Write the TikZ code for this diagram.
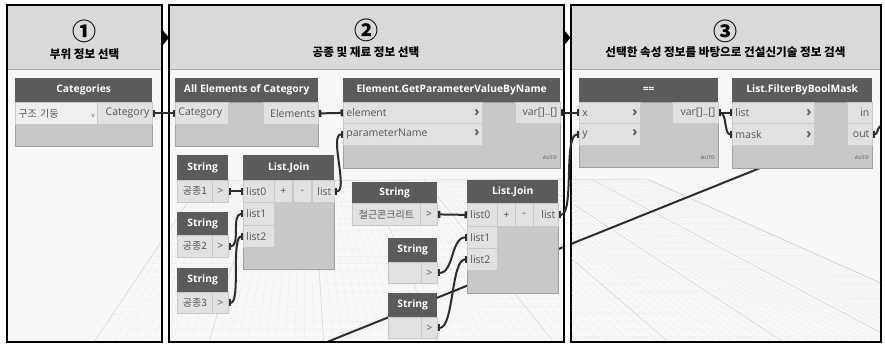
\documentclass[tikz,border=0pt]{standalone}
\usepackage{fontspec}
\setmainfont{Open Sans}
\newfontfamily\kr{Noto Sans CJK KR}
\usetikzlibrary{arrows.meta,calc}

\definecolor{panelbg}{HTML}{F7F7F7}
\definecolor{panelhd}{HTML}{D9D9D9}
\definecolor{sepline}{HTML}{A8A8A8}
\definecolor{nodehd}{HTML}{5B5B5B}
\definecolor{nodebd}{HTML}{C8C8C8}
\definecolor{nodeedge}{HTML}{A0A0A0}
\definecolor{cellbg}{HTML}{E1E1E1}
\definecolor{ddbg}{HTML}{EFEFEF}
\definecolor{porttx}{HTML}{555555}
\definecolor{autotx}{HTML}{7A7A7A}
\definecolor{wirec}{HTML}{2D2D2D}

\newcommand\chv{{\bfseries\fontsize{14}{9}\selectfont ›}}

\begin{document}
\begin{tikzpicture}[x=1pt, y=-1pt,
    every node/.style={inner sep=0pt},
    panel/.style={draw, line width=2pt, fill=panelbg, anchor=north west, outer sep=0pt},
    phead/.style={fill=panelhd, anchor=north west, minimum height=63},
    pnum/.style={font=\kr\bfseries\fontsize{24}{24}\selectfont},
    ptitle/.style={font=\kr\bfseries\fontsize{11.6}{12}\selectfont},
    dhead/.style={fill=nodehd, text=white, anchor=north west, font=\bfseries\fontsize{10.3}{10}\selectfont},
    dbody/.style={fill=nodebd, draw=nodeedge, line width=.6pt, anchor=north west},
    cell/.style={fill=cellbg, draw=nodebd, line width=.8pt, anchor=north west, inner xsep=3pt,
      minimum height=21, text=porttx, font=\fontsize{10.5}{10}\selectfont},
    krcell/.style={cell, font=\kr\fontsize{10}{10}\selectfont},
    lcell/.style={cell, align=left, text width=#1},
    rcell/.style={cell, align=right, text width=#1},
    autotag/.style={anchor=east, text=autotx, font=\bfseries\fontsize{5}{5}\selectfont},
    bare/.style={draw=wirec, line width=2pt},
    wire/.style={bare, {Rectangle[length=2.5pt,width=7pt]}-{Rectangle[length=2.5pt,width=7pt]}},
    flow/.style={-{Triangle[length=6pt,width=14pt]}, line width=2pt},
    gridln/.style={draw=black!8, line width=.3pt},
    gridmaj/.style={draw=black!18, line width=.4pt}
  ]
  \useasboundingbox (0,0) rectangle (885,348);

  % three panels
  \node[panel, minimum width=155, minimum height=337] (pnl1) at (7,5) {};
  \node[panel, minimum width=394.5, minimum height=337] (pnl2) at (169,5) {};
  \node[panel, minimum width=310.5, minimum height=337] (pnl3) at (570.5,5) {};

  \node[phead, minimum width=153] (hd1) at (8,6) {};
  \node[phead, minimum width=392.5] (hd2) at (170,6) {};
  \node[phead, minimum width=308.5] (hd3) at (571.5,6) {};
  \draw[sepline, line width=.8pt] (hd1.south west) -- (hd1.south east);
  \draw[sepline, line width=.8pt] (hd2.south west) -- (hd2.south east);
  \draw[sepline, line width=.8pt] (hd3.south west) -- (hd3.south east);

  \node[pnum] (n1) at (84.5,31) {①};
  \node[ptitle] (t1) at (84.5,54) {부위 정보 선택};
  \node[pnum] (n2) at (366,30) {②};
  \node[ptitle] (t2) at (366,52) {공종 및 재료 정보 선택};
  \node[pnum] (n3) at (725.5,31) {③};
  \node[ptitle] (t3) at (725.5,52) {선택한 속성 정보를 바탕으로 건설신기술 정보 검색};

  \draw[flow] (pnl1.east |- hd1.center) -- (pnl2.west |- hd1.center);
  \draw[flow] (pnl2.east |- hd2.center) -- (pnl3.west |- hd2.center);

  % floor grid
  \begin{scope}
    \clip (8,70) rectangle (161,341) (170,70) rectangle (562.5,341) (571.5,70) rectangle (880,341);
    \coordinate (fl) at (202,181);
    \coordinate (fr) at (647,179);
    \coordinate (nl) at (92,345);
    \coordinate (nr) at (1020,345);
    \foreach \i in {0,...,96}
      \draw[gridln] ($(fl)!\i/96!(fr)$) -- ($(nl)!\i/96!(nr)$);
    \foreach \j in {0,...,26}{
      \pgfmathsetmacro\tj{(\j/26)^1.25}
      \draw[gridln] ($(fl)!\tj!(nl)$) -- ($(fr)!\tj!(nr)$);
    }
    \foreach \i in {0,12,...,96}
      \draw[gridmaj] ($(fl)!\i/96!(fr)$) -- ($(nl)!\i/96!(nr)$);
    \draw[gridmaj] (fl) -- (fr) -- (nr);
    \coordinate (lnA) at (322,344);
    \coordinate (lnB) at (790,156);
    \draw[bare] (lnA) -- (lnB);
  \end{scope}

  % panel 1
  \node[dhead, minimum width=137, minimum height=24] (cat) at (15,78) {Categories};
  \node[dbody, minimum width=137, minimum height=44] (cat-bd) at (15,102) {};
  \node[krcell, fill=ddbg, align=left, text width=76pt, minimum height=22] (cat-dd) at (15,102) {구조 기둥\hfill{\fontsize{6}{6}\selectfont v}\hspace{4pt}};
  \node[rcell=49pt, minimum height=22] (cat-out) at (97,102) {Category};

  % panel 2
  \node[dhead, minimum width=143, minimum height=24] (aec) at (175,78) {All Elements of Category};
  \node[dbody, minimum width=143, minimum height=44] (aec-bd) at (175,102) {};
  \node[lcell=47pt, minimum height=22] (aec-in) at (175,102) {Category};
  \node[rcell=49pt, minimum height=22] (aec-out) at (263,102) {Elements};

  \node[dhead, minimum width=217, minimum height=24] (gpv) at (343,78) {Element.GetParameterValueByName};
  \node[dbody, minimum width=217, minimum height=66] (gpv-bd) at (343,102) {};
  \node[lcell=133pt] (gpv-el) at (343,102) {element\hfill\chv};
  \node[lcell=133pt, minimum height=22] (gpv-pn) at (343,123) {parameterName\hfill\chv};
  \node[rcell=39pt] (gpv-out) at (515,102) {var[]..[]};
  \node[autotag] (gpv-auto) at (557,158) {AUTO};

  \node[dhead, minimum width=51, minimum height=25] (str1) at (177,155) {String};
  \node[krcell, minimum width=35, minimum height=22] (str1-v) at (177,180) {공종1};
  \node[cell, minimum width=16, minimum height=22] (str1-o) at (212,180) {>};
  \node[dhead, minimum width=51, minimum height=23] (str2) at (177,212) {String};
  \node[krcell, minimum width=35, minimum height=22] (str2-v) at (177,235) {공종2};
  \node[cell, minimum width=16, minimum height=22] (str2-o) at (212,235) {>};
  \node[dhead, minimum width=51, minimum height=24] (str3) at (177,268) {String};
  \node[krcell, minimum width=35, minimum height=21] (str3-v) at (177,292) {공종3};
  \node[cell, minimum width=16, minimum height=21] (str3-o) at (212,292) {>};

  \node[dhead, minimum width=91, minimum height=25] (lj1) at (243,155) {List.Join};
  \node[dbody, minimum width=91, minimum height=89] (lj1-bd) at (243,180) {};
  \node[lcell=25pt, minimum height=22] (lj1-l0) at (243,180) {list0};
  \node[cell, minimum width=18, minimum height=22] (lj1-add) at (274,180) {+};
  \node[cell, minimum width=18, minimum height=22] (lj1-rem) at (293,180) {-};
  \node[rcell=16pt, minimum height=22] (lj1-out) at (312,180) {list};
  \node[lcell=25pt, minimum height=23] (lj1-l1) at (243,202) {list1};
  \node[lcell=25pt, minimum height=22] (lj1-l2) at (243,225) {list2};

  \node[dhead, minimum width=85, minimum height=21] (str4) at (352,182) {String};
  \node[krcell, minimum width=68, minimum height=22] (str4-v) at (352,203) {철근콘크리트};
  \node[cell, minimum width=17, minimum height=22] (str4-o) at (420,203) {>};
  \node[dhead, minimum width=49, minimum height=24] (str5) at (388,238) {String};
  \node[cell, minimum width=33, minimum height=21] (str5-v) at (388,262) {};
  \node[cell, minimum width=16, minimum height=21] (str5-o) at (421,262) {>};
  \node[dhead, minimum width=49, minimum height=24] (str6) at (388,293) {String};
  \node[cell, minimum width=33, minimum height=21] (str6-v) at (388,317) {};
  \node[cell, minimum width=16, minimum height=21] (str6-o) at (421,317) {>};

  \node[dhead, minimum width=91, minimum height=23] (lj2) at (467,180) {List.Join};
  \node[dbody, minimum width=91, minimum height=90] (lj2-bd) at (467,203) {};
  \node[lcell=24pt, minimum height=23] (lj2-l0) at (467,203) {list0};
  \node[cell, minimum width=18, minimum height=23] (lj2-add) at (497,203) {+};
  \node[cell, minimum width=18, minimum height=23] (lj2-rem) at (515,203) {-};
  \node[rcell=19pt, minimum height=23] (lj2-out) at (533,203) {list};
  \node[lcell=24pt, minimum height=22] (lj2-l1) at (467,226) {list1};
  \node[lcell=24pt, minimum height=22] (lj2-l2) at (467,248) {list2};

  % panel 3
  \node[dhead, minimum width=139, minimum height=24] (eq) at (579,78) {==};
  \node[dbody, minimum width=139, minimum height=65] (eq-bd) at (579,102) {};
  \node[lcell=55pt] (eq-x) at (579,102) {x\hfill\chv};
  \node[lcell=55pt, minimum height=22] (eq-y) at (579,123) {y\hfill\chv};
  \node[rcell=40pt] (eq-out) at (672,102) {var[]..[]};
  \node[autotag] (eq-auto) at (715,158) {AUTO};

  \node[dhead, minimum width=140, minimum height=24] (fbm) at (732,78) {List.FilterByBoolMask};
  \node[dbody, minimum width=140, minimum height=66] (fbm-bd) at (732,102) {};
  \node[lcell=76pt] (fbm-ls) at (732,102) {list\hfill\chv};
  \node[lcell=76pt, minimum height=22] (fbm-mk) at (732,123) {mask\hfill\chv};
  \node[rcell=19pt] (fbm-in) at (847,102) {in};
  \node[rcell=19pt, minimum height=22] (fbm-out) at (847,123) {out};
  \node[autotag] (fbm-auto) at (869,158) {AUTO};
  \coordinate (outR) at (880,126);

  % wires
  \draw[wire] (cat-out.east) -- (aec-in.west);
  \draw[wire] (aec-out.east) -- (gpv-el.west);
  \draw[wire] (str1-o.east) -- (lj1-l0.west);
  \draw[wire] (str2-o.east) .. controls +(12,0) and +(-12,0) .. (lj1-l1.west);
  \draw[wire] (str3-o.east) .. controls +(12,0) and +(-12,0) .. (lj1-l2.west);
  \draw[wire] (lj1-out.east) .. controls +(14,0) and +(-14,0) .. (gpv-pn.west);
  \draw[wire] (str4-o.east) -- (lj2-l0.west);
  \draw[wire] (str5-o.east) .. controls +(16,0) and +(-16,0) .. (lj2-l1.west);
  \draw[wire] (str6-o.east) .. controls +(16,0) and +(-16,0) .. (lj2-l2.west);
  \draw[wire] (gpv-out.east) -- (eq-x.west);
  \draw[wire] (lj2-out.east) .. controls +(16,0) and +(-16,0) .. (eq-y.west);
  \draw[wire] (eq-out.east) -- (fbm-ls.west);
  \draw[wire] (eq-out.east) .. controls +(8,0) and +(-8,0) .. (fbm-mk.west);
  \draw[bare, {Rectangle[length=2.5pt,width=7pt]}-] (fbm-out.east) .. controls +(5,0) and +(-3,3) .. (outR);
\end{tikzpicture}
\end{document}
